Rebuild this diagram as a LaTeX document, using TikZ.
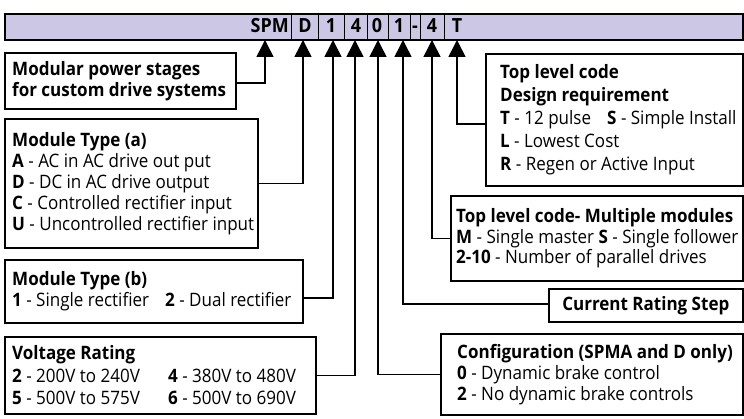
\documentclass[tikz,border=0pt]{standalone}
\usepackage{fontspec}
\setmainfont{Open Sans}[FakeStretch=0.92]
\usetikzlibrary{arrows.meta}
\definecolor{hdr}{RGB}{204,199,228}
\begin{document}
\begin{tikzpicture}[x=1pt,y=-1pt,
  box/.style={draw,line width=1.6pt,anchor=north west,inner sep=0pt},
  txt/.style={anchor=west,align=left,inner sep=0pt,font=\fontsize{18.5}{21}\selectfont},
  conn/.style={line width=1.5pt,-{Triangle[width=17pt,length=17pt]}},
  cell/.style={anchor=base,inner sep=0pt,font=\fontsize{19.5}{20}\selectfont\bfseries},
  divider/.style={line width=1pt}]
\useasboundingbox (0,0) rectangle (744,419);
% header bar
\node[draw,line width=1.8pt,fill=hdr,minimum width=738pt,minimum height=26pt,anchor=north west,inner sep=0pt] (bar) at (4,13) {};
\node[cell,anchor=base east] (cSPM) at (289,33) {SPM};
\node[cell] (cD) at (305,33) {D};
\node[cell] (c1) at (331,33) {1};
\node[cell] (c4) at (356,33) {4};
\node[cell] (c0) at (377,33) {0};
\node[cell] (c1b) at (399,33) {1};
\node[cell] (cdash) at (415,33) {-};
\node[cell] (c4b) at (432,33) {4};
\node[cell] (cT) at (457,33) {T};
\foreach \x in {291,318,344,367,388,410,420,444}
  \draw[divider] (\x,13) -- (\x,39);
% arrow tips
\coordinate (tSPM) at (265,40);
\coordinate (tD) at (303,40);
\coordinate (t1) at (333,40);
\coordinate (t4) at (355,40);
\coordinate (t0) at (378,40);
\coordinate (t1b) at (403,40);
\coordinate (t4b) at (432,40);
\coordinate (tT) at (457,40);
% left boxes
\node[box,minimum width=231pt,minimum height=56pt] (bMod) at (4,52) {};
\node[txt,font=\fontsize{18.5}{21}\selectfont\bfseries] (bModT) at ([xshift=8pt]bMod.west) {Modular power stages\\for custom drive systems};
\node[box,minimum width=253pt,minimum height=129pt] (bA) at (4,118) {};
\node[txt] (bAT) at ([xshift=8pt]bA.west) {\textbf{Module Type (a)}\\\textbf{A} - AC in AC drive out put\\\textbf{D} - DC in AC drive output\\\textbf{C} - Controlled rectifier input\\\textbf{U} - Uncontrolled rectifier input};
\node[box,minimum width=298pt,minimum height=63pt] (bB) at (4,259) {};
\node[txt] (bBT) at ([xshift=8pt]bB.west) {\textbf{Module Type (b)}\\\makebox[153pt][l]{\textbf{1} - Single rectifier}\textbf{2} - Dual rectifier};
\node[box,minimum width=311pt,minimum height=77pt] (bV) at (4,336) {};
\node[txt,font=\fontsize{18.5}{22.5}\selectfont] (bVT) at ([xshift=8pt]bV.west) {\textbf{Voltage Rating}\\\makebox[156pt][l]{\textbf{2} - 200V to 240V}\textbf{4} - 380V to 480V\\\makebox[156pt][l]{\textbf{5} - 500V to 575V}\textbf{6} - 500V to 690V};
% right boxes
\node[box,minimum width=257pt,minimum height=132pt] (bTop) at (485,53) {};
\node[txt,font=\fontsize{18.5}{23}\selectfont] (bTopT) at ([xshift=15pt]bTop.west) {\textbf{Top level code}\\\textbf{Design requirement}\\\makebox[107pt][l]{\textbf{T} - 12 pulse}\textbf{S} - Simple Install\\\textbf{L} - Lowest Cost\\\textbf{R} - Regen or Active Input};
\node[box,minimum width=292pt,minimum height=85pt] (bM) at (450,195) {};
\node[txt,font=\fontsize{18.5}{20.5}\selectfont] (bMT) at ([xshift=6pt]bM.west) {\textbf{Top level code- Multiple modules}\\\textbf{M} - Single master \textbf{S} - Single follower\\\textbf{2-10} - Number of parallel drives};
\node[box,minimum width=194pt,minimum height=33pt,font=\fontsize{18.5}{21}\selectfont\bfseries] (bCur) at (548,288) {Current Rating Step};
\node[box,minimum width=302pt,minimum height=81pt] (bC) at (440,333) {};
\node[txt] (bCT) at ([xshift=17pt]bC.west) {\textbf{Configuration (SPMA and D only)}\\\textbf{0} - Dynamic brake control\\\textbf{2} - No dynamic brake controls};
% connectors
\draw[conn] ([yshift=-2pt]bMod.east) -| (tSPM);
\draw[conn] (bA.east) -| (tD);
\draw[conn] ([yshift=-6.5pt]bB.east) -| (t1);
\draw[conn] (bV.east) -| (t4);
\draw[conn] (bC.west) -| (t0);
\draw[conn] ([yshift=1.5pt]bCur.west) -| (t1b);
\draw[conn] (bM.west) -| (t4b);
\draw[conn] ([yshift=-4pt]bTop.west) -| (tT);
\end{tikzpicture}
\end{document}
